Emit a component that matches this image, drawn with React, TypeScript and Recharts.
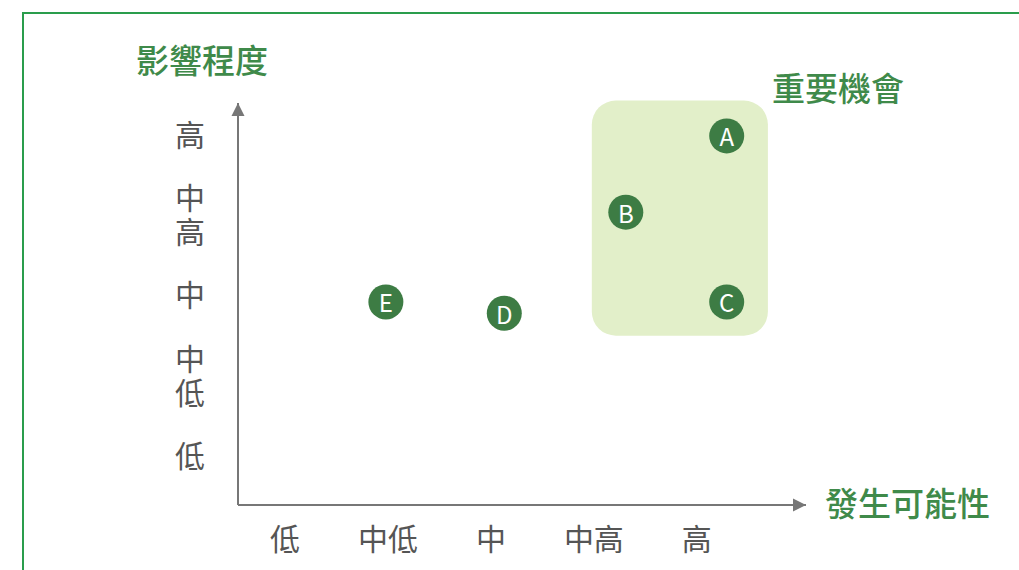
import React from 'react';
import { ScatterChart, Scatter, XAxis, YAxis, ReferenceArea, ReferenceDot } from 'recharts';

const categories = ['低', '中低', '中', '中高', '高'];
const tickValues = [1, 2, 3, 4, 5];
const pointNames = ['A', 'B', 'C', 'D', 'E'];
const likelihood = [5.29, 4.31, 5.29, 3.13, 1.98];
const impact = [5.0, 4.05, 2.93, 2.79, 2.93];
const zoneX = [3.98, 5.69];
const zoneY = [2.51, 5.44];
const xDomain = [0.544, 6.06];
const yDomain = [0.4, 5.41];

const data = pointNames.map((name, i) => ({ name, x: likelihood[i], y: impact[i] }));

const FONT = '"Noto Sans CJK TC", "Noto Sans", sans-serif';
const GREEN_TEXT = '#3f8a4a';
const DOT = '#3d7c44';
const GRAY = '#555555';
const AXIS = '#777777';

const XTick = (props: any) => {
  const { x, y, payload } = props;
  return (
    <text x={x} y={y + 32} textAnchor="middle" dominantBaseline="central" fontSize={30} fill={GRAY} fontFamily={FONT}>
      {categories[payload.value - 1]}
    </text>
  );
};

const YTick = (props: any) => {
  const { x, y, payload } = props;
  const chars = Array.from(categories[payload.value - 1] || '');
  const lh = 34;
  const start = y - 3 - ((chars.length - 1) * lh) / 2;
  return (
    <text x={x - 48} y={start} textAnchor="middle" dominantBaseline="central" fontSize={30} fill={GRAY} fontFamily={FONT}>
      {chars.map((c, i) => (
        <tspan key={i} x={x - 48} dy={i === 0 ? 0 : lh}>
          {c}
        </tspan>
      ))}
    </text>
  );
};

const Dot = (props: any) => {
  const { cx, cy, payload } = props;
  return (
    <g>
      <circle cx={cx} cy={cy} r={17.5} fill={DOT} />
      <text x={cx} y={cy} textAnchor="middle" dominantBaseline="central" fontSize={24} fill="#ffffff" fontFamily={FONT}>
        {payload.name}
      </text>
    </g>
  );
};

const Zone = (props: any) => {
  const { x, y, width, height } = props;
  return <rect x={x} y={y} width={width} height={height} rx={24} ry={24} fill="#e2efc9" />;
};

const ArrowRight = (props: any) => {
  const { cx, cy } = props;
  return <path d={`M${cx},${cy} L${cx - 13},${cy - 6.5} L${cx - 13},${cy + 6.5} Z`} fill={AXIS} />;
};
const ArrowUp = (props: any) => {
  const { cx, cy } = props;
  return <path d={`M${cx},${cy} L${cx - 6.5},${cy + 13} L${cx + 6.5},${cy + 13} Z`} fill={AXIS} />;
};

const titleStyle: React.CSSProperties = {
  position: 'absolute',
  fontFamily: FONT,
  fontWeight: 500,
  fontSize: 33,
  color: GREEN_TEXT,
  lineHeight: 1,
  whiteSpace: 'nowrap',
};

export default function App() {
  return (
    <div style={{ position: 'absolute', left: 0, top: 0, width: 1019, height: 570, overflow: 'hidden', background: '#fff' }}>
      <div style={{ position: 'absolute', left: 22, top: 12, width: 1100, height: 700, border: '2px solid #2a9d4c', boxSizing: 'border-box' }} />
      <div style={{ position: 'absolute', left: 0, top: 0 }}>
        <ScatterChart width={1019} height={570} margin={{ left: 237, right: 213, top: 103, bottom: 64 }}>
          <XAxis
            type="number"
            dataKey="x"
            domain={xDomain}
            ticks={tickValues}
            tick={<XTick />}
            tickLine={false}
            tickSize={0}
            tickMargin={0}
            height={1}
            axisLine={{ stroke: AXIS, strokeWidth: 2 }}
            allowDataOverflow
          />
          <YAxis
            type="number"
            dataKey="y"
            domain={yDomain}
            ticks={tickValues}
            tick={<YTick />}
            tickLine={false}
            tickSize={0}
            tickMargin={0}
            width={1}
            axisLine={{ stroke: AXIS, strokeWidth: 2 }}
            allowDataOverflow
          />
          <ReferenceArea x1={zoneX[0]} x2={zoneX[1]} y1={zoneY[0]} y2={zoneY[1]} shape={<Zone />} ifOverflow="visible" />
          <ReferenceDot x={xDomain[1]} y={yDomain[0]} shape={<ArrowRight />} ifOverflow="visible" />
          <ReferenceDot x={xDomain[0]} y={yDomain[1]} shape={<ArrowUp />} ifOverflow="visible" />
          <Scatter data={data} shape={<Dot />} isAnimationActive={false} />
        </ScatterChart>
      </div>
      <div style={{ ...titleStyle, left: 136, top: 43 }}>影響程度</div>
      <div style={{ ...titleStyle, left: 772, top: 71 }}>重要機會</div>
      <div style={{ ...titleStyle, left: 825, top: 486 }}>發生可能性</div>
    </div>
  );
}
